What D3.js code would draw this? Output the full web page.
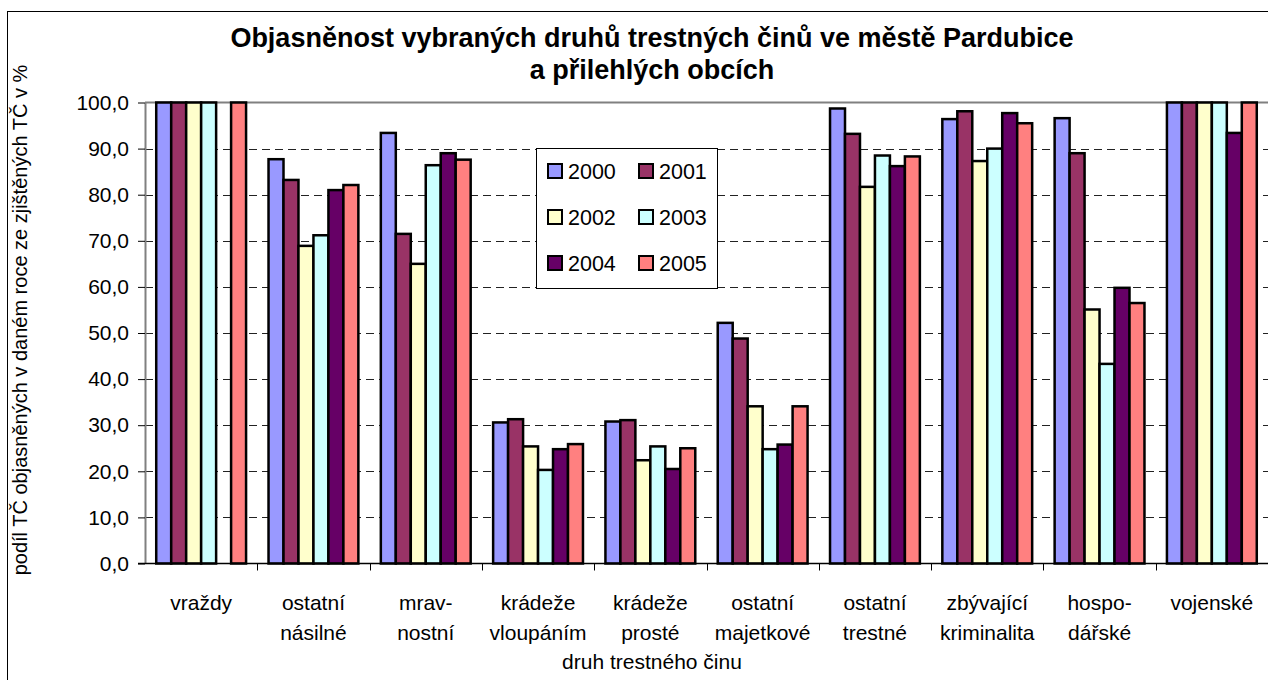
<!DOCTYPE html>
<html>
<head>
<meta charset="utf-8">
<script src="https://cdn.jsdelivr.net/npm/d3@7"></script>
<style>
  body { margin: 0; background: #fff; }
  svg { display: block; font-family: Arial, "Liberation Sans", sans-serif; }
</style>
</head>
<body>
<svg width="1268" height="680"></svg>
<script>
// data
const categories = ["vraždy", "ostatní\nnásilné", "mrav-\nnostní", "krádeže\nvloupáním", "krádeže\nprosté",
    "ostatní\nmajetkové", "ostatní\ntrestné", "zbývající\nkriminalita", "hospo-\ndářské", "vojenské"];
const years = ["2000", "2001", "2002", "2003", "2004", "2005"];
const colors = ["#9999FF", "#993366", "#FFFFCC", "#CCFFFF", "#660066", "#FF8080"];

const v2000 = [100, 87.7, 93.4, 30.6, 30.8, 52.2, 98.7, 96.4, 96.6, 100];
const v2001 = [100, 83.2, 71.5, 31.3, 31.1, 48.8, 93.2, 98.1, 89.0, 100];
const v2002 = [100, 68.9, 65.0, 25.4, 22.4, 34.1, 81.7, 87.3, 55.1, 100];
const v2003 = [100, 71.2, 86.4, 20.3, 25.4, 24.8, 88.5, 90.0, 43.3, 100];
const v2004 = [null, 81.0, 89.0, 24.8, 20.5, 25.8, 86.2, 97.7, 59.8, 93.4];
const v2005 = [100, 82.1, 87.6, 25.9, 25.0, 34.1, 88.3, 95.5, 56.5, 100];
const series = [v2000, v2001, v2002, v2003, v2004, v2005];

const yTicks = [0, 10, 20, 30, 40, 50, 60, 70, 80, 90, 100];

const svg = d3.select("svg"),
    width = +svg.attr("width"),
    height = +svg.attr("height");

const plot = {left: 145, right: 1268, top: 102.5, bottom: 563.5};

// outer chart frame (runs off the right/bottom edge like the reference)
svg.append("rect")
    .attr("x", 7.5).attr("y", 11.5)
    .attr("width", 1300).attr("height", 700)
    .attr("fill", "#fff").attr("stroke", "#000").attr("stroke-width", 1);

const x0 = d3.scaleBand().domain(categories).range([plot.left, plot.right]).padding(0);
const x1 = d3.scaleBand().domain(years).range([0, x0.bandwidth()]).paddingInner(0).paddingOuter(0.75);
const y = d3.scaleLinear().domain([0, 100]).range([plot.bottom, plot.top]);

// dashed grid
svg.append("g")
    .selectAll("line")
    .data(yTicks.filter(d => d > 0 && d < 100))
    .join("line")
    .attr("x1", plot.left).attr("x2", plot.right)
    .attr("y1", d => Math.round(y(d)) + 0.5).attr("y2", d => Math.round(y(d)) + 0.5)
    .attr("stroke", "#222").attr("stroke-dasharray", "8,5");

// plot top border
svg.append("line")
    .attr("x1", plot.left).attr("x2", plot.right)
    .attr("y1", plot.top).attr("y2", plot.top)
    .attr("stroke", "#808080").attr("stroke-width", 2);

// bars
const groups = svg.append("g")
    .selectAll("g")
    .data(series)
    .join("g")
    .attr("fill", (d, i) => colors[i]);

groups.selectAll("rect")
    .data((s, i) => s.map((v, j) => ({v: v, cat: categories[j], year: years[i]})).filter(d => d.v != null))
    .join("rect")
    .attr("x", d => x0(d.cat) + x1(d.year))
    .attr("y", d => y(d.v))
    .attr("width", x1.bandwidth())
    .attr("height", d => y(0) - y(d.v))
    .attr("stroke", "#000").attr("stroke-width", 2.5);

// y axis
const fmt = d3.format(".1f");
const yAxis = svg.append("g")
    .attr("transform", `translate(${plot.left},0)`)
    .call(d3.axisLeft(y).tickValues(yTicks).tickSize(7).tickSizeOuter(0).tickPadding(9)
        .tickFormat(d => fmt(d).replace(".", ",")));
yAxis.select(".domain").attr("stroke", "#808080").attr("stroke-width", 2);
yAxis.selectAll(".tick line").attr("stroke", "#000");
yAxis.selectAll("text").attr("font-size", 21).attr("fill", "#000").attr("font-family", null);

// x axis line + boundary ticks
svg.append("line")
    .attr("x1", plot.left - 7).attr("x2", plot.right)
    .attr("y1", plot.bottom).attr("y2", plot.bottom)
    .attr("stroke", "#000").attr("stroke-width", 1.5);

svg.append("g")
    .selectAll("line")
    .data(categories.slice(1))
    .join("line")
    .attr("x1", d => Math.round(x0(d)) + 0.5).attr("x2", d => Math.round(x0(d)) + 0.5)
    .attr("y1", plot.bottom).attr("y2", plot.bottom + 7)
    .attr("stroke", "#000");

// category labels
const labels = svg.append("g")
    .selectAll("text")
    .data(categories)
    .join("text")
    .attr("x", d => x0(d) + x0.bandwidth() / 2)
    .attr("y", 610)
    .attr("text-anchor", "middle")
    .attr("font-size", 21);
labels.selectAll("tspan")
    .data(d => d.split("\n"))
    .join("tspan")
    .attr("x", function() { return this.parentNode.getAttribute("x"); })
    .attr("dy", (d, i) => i ? 30 : 0)
    .text(d => d);

// axis titles
svg.append("text")
    .attr("x", 652).attr("y", 669)
    .attr("text-anchor", "middle").attr("font-size", 21)
    .text("druh trestného činu");

svg.append("text")
    .attr("transform", "translate(27,320) rotate(-90)")
    .attr("text-anchor", "middle").attr("font-size", 20)
    .text("podíl TČ objasněných v daném roce ze zjištěných TČ v %");

// title
svg.append("text")
    .attr("x", 652).attr("y", 47)
    .attr("text-anchor", "middle").attr("font-size", 27).attr("font-weight", "bold")
    .text("Objasněnost vybraných druhů trestných činů ve městě Pardubice");
svg.append("text")
    .attr("x", 652).attr("y", 79)
    .attr("text-anchor", "middle").attr("font-size", 27).attr("font-weight", "bold")
    .text("a přilehlých obcích");

// legend
const legend = svg.append("g").attr("transform", "translate(536,148)");
legend.append("rect")
    .attr("x", 0.5).attr("y", 0.5).attr("width", 181).attr("height", 140)
    .attr("fill", "#fff").attr("stroke", "#000");
const item = legend.selectAll("g.item")
    .data(years)
    .join("g")
    .attr("class", "item")
    .attr("transform", (d, i) => `translate(${12 + (i % 2) * 91},${23 + Math.floor(i / 2) * 46})`);
item.append("rect")
    .attr("x", 0).attr("y", -7).attr("width", 14).attr("height", 14)
    .attr("fill", (d, i) => colors[i]).attr("stroke", "#000").attr("stroke-width", 2);
item.append("text")
    .attr("x", 20).attr("y", 8)
    .attr("font-size", 21.5)
    .text(d => d);
</script>
</body>
</html>
